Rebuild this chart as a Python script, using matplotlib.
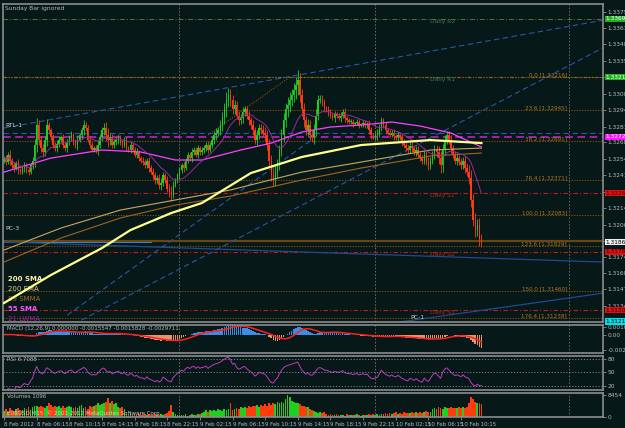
import matplotlib
matplotlib.use('Agg')
import matplotlib.pyplot as plt
import matplotlib.transforms as mtransforms
import numpy as np
import pandas as pd

plt.rcParams['font.family'] = ['DejaVu Sans']

# EURUSD M15, 8 Feb 2012 02:15 -> 10 Feb, closes in pips above 1.3000
close_pips = [255, 252, 258, 253, 249, 247, 251, 245, 244, 247, 249, 245, 244, 249, 253,
              266, 282, 270,
              263, 260, 270, 282,
              278, 272, 266, 263, 267,
              270, 272, 266, 263, 268,
              272, 274, 268, 266, 270, 274,
              278, 282, 280, 270, 266, 262,
              263, 262, 266, 272, 278, 280,
              274, 270, 272, 266, 268, 270,
              272, 268, 266, 270, 263, 262,
              266, 262, 258, 260, 255, 253,
              252, 249, 253, 247, 244, 241,
              237, 239, 233, 235, 241, 237,
              230, 227, 225, 233, 237, 241,
              245, 249, 247, 253, 258, 255,
              260, 262, 258, 263, 260, 262,
              263, 266, 262, 266, 270, 274,
              276, 278, 282, 288, 295, 303,
              307, 303, 295, 299, 290, 286,
              288, 293, 295, 290, 286, 282,
              278, 270, 274, 280, 278, 276,
              274, 266, 253, 241, 237, 244,
              249, 262, 274, 286, 295, 299,
              303, 307, 311, 315, 319, 307,
              295, 286, 278, 282, 274, 272,
              278, 290, 303, 304, 301, 296,
              295, 293, 290, 288, 291, 290,
              288, 290, 293, 288, 286, 285,
              285, 283, 284, 285, 282, 283,
              284, 282, 283, 278, 274, 273,
              274, 275, 280, 286, 282, 278,
              276, 274, 276, 273, 272, 274,
              272, 268, 266, 263, 262, 265,
              263, 260, 262, 258, 255, 253,
              258, 252, 249, 253, 258, 262,
              260, 255, 249, 262, 270, 274,
              270, 263, 258, 253, 255, 252,
              249, 253, 247, 244, 239,
              221, 204, 196, 200, 189, 186]
first_open_pips = 253

wick_pips = [2, 3, 2, 4, 2, 3, 2, 3, 2, 2, 3, 2, 3, 2, 3, 5, 6, 4, 3, 4,
             3, 5, 3, 2, 3, 2, 3, 3, 2, 3, 2, 3, 2, 3, 2, 3, 4, 2, 3, 4,
             3, 2, 3, 2, 2, 3, 4, 3, 3, 4, 5, 6, 4, 3, 3, 2, 3, 2, 3, 2,
             2, 2, 3, 2, 2, 3, 2, 2, 3, 2, 2, 3, 2, 3, 3, 2, 3, 4, 3, 2,
             3, 4, 5, 3, 2, 2, 3, 2, 3, 2, 2, 2, 3, 2, 2, 3, 2, 2, 3, 2,
             3, 2, 3, 3, 4, 3, 4, 5, 5, 6, 6, 5, 4, 4, 3, 4, 3, 4, 3, 3,
             4, 3, 4, 3, 4, 3, 3, 4, 5, 4, 5, 5, 6, 5, 5, 4, 5, 6, 5, 6,
             6, 5, 6, 7, 8, 6, 5, 5, 4, 5, 4, 4, 5, 5, 4, 3, 3, 3, 2, 3,
             2, 2, 3, 2, 2, 3, 2, 3, 2, 2, 2, 2, 1, 2, 2, 1, 2, 2, 2, 3,
             3, 2, 3, 4, 3, 3, 2, 3, 2, 2, 2, 3, 2, 3, 2, 3, 3, 2, 3, 3,
             3, 2, 3, 3, 2, 3, 3, 3, 4, 3, 3, 4, 4, 5, 6, 5, 4, 3, 3, 4,
             3, 3, 4, 3, 3, 3, 4, 4, 5, 6, 5, 6, 5, 6, 4]

volumes = ([2300, 3000, 2100, 3400, 2700, 2200, 3100, 3600, 2800, 2500, 3300, 3000, 3800, 2600, 3900]
           + [4100, 4400, 3700, 4200, 3900, 3500]
           + [4300, 5400, 4700, 4000, 4400]
           + [3800, 4200, 3600, 4100, 3400, 3900, 4300, 3700, 3500, 4000]
           + [3300, 4100, 4500, 3600, 4000, 3200, 4400, 3800, 4100]
           + [4800, 5300, 4600, 5100, 5500]
           + [5700, 7300, 5400, 6000, 4900, 5200]
           + [3700, 3400, 3900, 3100]
           + [1200, 900, 1400, 800, 1100, 700, 1300, 900, 600, 1000, 800, 1200, 700, 900, 1100, 600, 800, 1000, 700]
           + [1000, 1500, 2300, 4600, 1800, 1200]
           + [800, 600, 900, 700, 1000, 500, 800, 1100, 700, 900, 1200, 1000, 1400]
           + [2000, 2500, 1800, 2800, 2300, 2700, 2200, 3000, 2600, 2400, 2900, 2700, 3200]
           + [5400]
           + [2600, 3000, 3400, 2900, 3700, 3300, 4000, 3600, 4200, 3800, 4100]
           + [4300, 4600, 4000, 4500, 4200]
           + [5000, 4400, 5300, 4800, 5500, 5100, 5800, 5200, 5700, 5400]
           + [7000, 8454, 7500, 6300]
           + [5900, 5300, 5500, 4900, 4400]
           + [4400, 3700, 4000, 3100, 2800]
           + [2400, 2100, 1700, 2000, 1500, 1800]
           + [1100, 800, 1200, 900, 700, 1000, 600, 900, 800, 500, 1100, 700, 900, 600,
              800, 1000, 700, 500, 900, 600, 800, 1100, 700, 1000, 900, 1200, 800, 1000]
           + [1200, 1500, 1000, 1700, 1300, 1400, 1800, 1100, 1600, 1300, 1900, 1500,
              1700, 1400, 2000, 1600, 1800, 1500, 2100, 1700, 1900, 2200, 1800, 2000]
           + [2900, 3500, 3200, 3800, 3400, 3100, 3900, 3600, 3300, 3700, 3500]
           + [3600, 3400, 3800, 3300, 3700, 3500, 3900]
           + [5200, 7800, 6800]
           + [5600, 5300, 5500, 5000])

# moving averages (bar index, price)
sma200_bars = [0, 23, 48, 62, 82, 97, 121, 146, 175, 209, 234]
sma200 = [1.31361, 1.31591, 1.31812, 1.31960, 1.32100, 1.32182, 1.32428, 1.32560, 1.32658, 1.32699, 1.32674]
ema200_bars = [0, 28, 57, 84, 111, 146, 175, 209, 234]
ema200 = [1.31796, 1.31977, 1.32124, 1.32207, 1.32289, 1.32436, 1.32518, 1.32617, 1.32633]
smma89 = [1.31697, 1.31895, 1.32059, 1.32165, 1.32239, 1.32371, 1.32469, 1.32568, 1.32592]
sma55_bars = [0, 23, 48, 67, 84, 97, 116, 131, 146, 160, 175, 190, 204, 219, 234]
sma55 = [1.32436, 1.32551, 1.32617, 1.32601, 1.32535, 1.32535, 1.32617, 1.32674, 1.32765,
         1.32806, 1.32822, 1.32847, 1.32814, 1.32757, 1.32642]

price_ticks = [1.33750, 1.33615, 1.33485, 1.33350, 1.33215, 1.33080, 1.32945, 1.32810, 1.32680,
               1.32545, 1.32410, 1.32275, 1.32140, 1.32005, 1.31870, 1.31740, 1.31605, 1.31475, 1.31340]
time_tick_bars = [0, 16, 32, 48, 64, 80, 96, 112, 128, 144, 160, 176, 192, 208, 224]
time_labels = ['8 Feb 2012', '8 Feb 06:15', '8 Feb 10:15', '8 Feb 14:15', '8 Feb 18:15', '8 Feb 22:15',
               '9 Feb 02:15', '9 Feb 06:15', '9 Feb 10:15', '9 Feb 14:15', '9 Feb 18:15', '9 Feb 22:15',
               '10 Feb 02:15', '10 Feb 06:15', '10 Feb 10:15']
day_sep_bars = [86, 182, 277]

# pivots and fibo levels
pivot_names = ['Daily R2', 'Daily R1', 'Daily S1', 'Daily S2', 'Daily S3']
pivot_prices = [1.33693, 1.33216, 1.32264, 1.31780, 1.31303]
fib_ratios = ['0.0', '23.6', '38.2', '76.4', '100.0', '123.6', '150.0', '176.4']
fib_prices = [1.33216, 1.32945, 1.32691, 1.32371, 1.32083, 1.31829, 1.31460, 1.31238]

BG = '#071818'
GRAY = '#b8b8b8'
W, H = 625, 428

n = len(close_pips)
closes = 1.3 + np.array(close_pips) / 10000
opens = np.r_[1.3 + first_open_pips / 10000, closes[:-1]]
wick = np.array(wick_pips[:n]) / 10000
vol = np.array(volumes[:n])
x = np.arange(n)
up = closes >= opens
bar_col = np.where(up, '#20d020', '#ff3c10')

fig = plt.figure(figsize=(W / 100, H / 100), dpi=100, facecolor=BG)


def box(l, t, r, b):
    return [l / W, 1 - b / H, (r - l) / W, (b - t) / H]


ax = fig.add_axes(box(3, 4, 603, 322))
ax_macd = fig.add_axes(box(3, 325, 603, 353), sharex=ax)
ax_rsi = fig.add_axes(box(3, 356, 603, 390), sharex=ax)
ax_vol = fig.add_axes(box(3, 393, 603, 417), sharex=ax)

for a in (ax, ax_macd, ax_rsi, ax_vol):
    a.set_facecolor(BG)
    for s in a.spines.values():
        s.set_color('#8c8c8c')
        s.set_linewidth(1.2)
    a.yaxis.tick_right()
    a.tick_params(axis='y', colors='#8c8c8c', labelcolor=GRAY, labelsize=4.2, length=2, pad=1.5, width=0.6)
    a.tick_params(axis='x', length=0, labelbottom=False)
    for b in day_sep_bars:
        a.axvline(b, color='#807060', lw=0.6, ls=(0, (2, 2)), zorder=1)

ax.set_xlim(-0.5, 293.6)

# ---- main price panel ----
ax.set_ylim(1.31205, 1.33816)
ax.set_yticks(price_ticks)
ax.set_yticklabels(['%.5f' % p for p in price_ticks])

# horizontal levels
ax.axhline(pivot_prices[0], color='#4e7a30', lw=0.7, ls=(0, (5, 2, 1, 2)))
ax.axhline(pivot_prices[1], color='#8a8a20', lw=0.8, ls=(0, (3, 1.5, 1, 1.5, 1, 1.5)))
for p in pivot_prices[2:]:
    ax.axhline(p, color='#c81818', lw=0.8, ls=(0, (4, 2, 1, 2)))
for p in fib_prices:
    ax.axhline(p, color='#7a4a12', lw=0.8, ls=(0, (1.2, 1.2)))
ax.axhline(1.32757, color='#2a55a8', lw=0.8, ls=(0, (5, 3)))
ax.axhline(1.32724, color='#d020d0', lw=1.1, ls=(0, (5, 3)))
ax.axhline(1.31870, color='#6a4510', lw=1.6)
ax.plot([0, 72], [1.31858, 1.31858], color='#3a8ad0', lw=0.7)

# trend / channel lines
ax.plot([0, 294], [1.32798, 1.33684], color='#2a55a8', lw=0.8, ls=(0, (5, 3)))
ax.plot([38, 294], [1.31220, 1.33460], color='#2a55a8', lw=0.8, ls=(0, (5, 3)))
ax.plot([31, 150], [1.31262, 1.32691], color='#2a55a8', lw=0.8, ls=(0, (5, 3)))
ax.plot([100, 140], [1.32740, 1.33216], color='#7a4a12', lw=0.8, ls=(0, (1.2, 1.2)))
ax.plot([0, 294], [1.31862, 1.31697], color='#1e4a90', lw=0.9)
ax.plot([194, 294], [1.31205, 1.31443], color='#1e4a90', lw=0.9)

# candles
lo = np.minimum(opens, closes)
hi = np.maximum(opens, closes)
ax.vlines(x, lo - wick, hi + wick, colors=bar_col, lw=0.6, zorder=3)
ax.bar(x, np.maximum(hi - lo, 0.00004), bottom=lo, width=0.75, color=bar_col, lw=0, zorder=3)

# moving averages
ax.plot(ema200_bars, smma89, color='#a06420', lw=0.8, zorder=4)
ax.plot(ema200_bars, ema200, color='#c8a860', lw=0.8, zorder=4)
ax.plot(sma55_bars, sma55, color='#ff40ff', lw=0.9, zorder=4)
lwma = pd.Series(closes).rolling(21, min_periods=1).apply(
    lambda w: np.average(w, weights=np.arange(1, len(w) + 1)), raw=True)
ax.plot(x, lwma, color='#9a2a9a', lw=0.7, zorder=4)
ax.plot(sma200_bars, sma200, color='#ffff90', lw=1.6, zorder=5)

# level labels
for name, p in zip(pivot_names, pivot_prices):
    c = '#3a7a62' if 'R' in name else '#b02a20'
    ax.text(209, p, name, color=c, fontsize=4.3, va='top', ha='left')
for r, p in zip(fib_ratios, fib_prices):
    ax.text(276, p, '%s [%.5f]' % (r, p), color='#b07820', fontsize=4.1, va='bottom', ha='right')

ax.text(0.5, 1.33760, 'Sunday Bar ignored', color=GRAY, fontsize=4.3, va='bottom')
ax.text(0.5, 1.32800, 'RTL-1', color='#d0d0d0', fontsize=4.5, va='bottom')
ax.text(0.5, 1.31950, 'PC-3', color='#d0d0d0', fontsize=4.5, va='bottom')
ax.text(199, 1.31225, 'PC-1', color='#d0d0d0', fontsize=4.5, va='bottom')

legend = [('200 SMA', '#f8f4b0', 'bold'), ('200 EMA', '#d8c890', 'normal'),
          ('89 SMMA', '#a06a20', 'normal'), ('55 SMA', '#ff50ff', 'bold'), ('21 LWMA', '#a020a0', 'normal')]
for k, (t, c, w) in enumerate(legend):
    ax.text(2, 1.31555 - k * 0.00082, t, color=c, fontsize=5, fontweight=w, va='center')

# coloured price boxes on the axis
tr = mtransforms.blended_transform_factory(ax.transAxes, ax.transData)
boxes = [(1.33693, '#20b020', 'white'), (1.33216, '#20b020', 'white'), (1.32724, '#ff10ff', 'white'),
         (1.32264, '#e01010', '#300000'), (1.31861, '#f0f0f0', 'black'), (1.31780, '#e01010', '#300000'),
         (1.31303, '#e01010', '#300000'), (1.31210, '#00e0e8', 'black')]
for p, bg, fg in boxes:
    ax.text(1.004, p, '%.5f' % p, transform=tr, fontsize=4.2, color=fg, va='center', ha='left',
            bbox=dict(fc=bg, ec='none', pad=0.6), clip_on=False, zorder=10)

# ---- MACD ----
s = pd.Series(closes)
macd = s.ewm(span=12, adjust=False).mean() - s.ewm(span=26, adjust=False).mean()
signal = macd.rolling(9, min_periods=1).mean()
macd_col = np.where(macd >= 0, '#3a8ee8', '#e8946a')
ax_macd.bar(x, macd, width=0.8, color=macd_col, lw=0)
ax_macd.plot(x, signal, color='#ff2020', lw=1.1)
ax_macd.set_ylim(-0.002525, 0.001297)
ax_macd.set_yticks([0.001024, 0.0, -0.002115])
ax_macd.set_yticklabels(['0.001024', '0.00', '-0.002115'])
ax_macd.text(1.5, 0.00118, 'MACD (12,26,9) 0.000000 -0.0015547 -0.0015828 -0.0029711',
             color=GRAY, fontsize=4, va='top')

# ---- RSI ----
delta = s.diff()
gain = delta.clip(lower=0).ewm(alpha=1 / 14, adjust=False).mean()
loss = (-delta.clip(upper=0)).ewm(alpha=1 / 14, adjust=False).mean()
rsi = 100 - 100 / (1 + gain / loss.replace(0, np.nan))
ax_rsi.plot(x, rsi, color='#c03ac0', lw=0.7)
for lv in (80, 50, 20):
    ax_rsi.axhline(lv, color='#8c8c8c', lw=0.6, ls=(0, (1.5, 2)))
ax_rsi.set_ylim(10, 85.6)
ax_rsi.set_yticks([80, 50, 20])
ax_rsi.text(1.5, 84, 'RSI 6.7088', color=GRAY, fontsize=4, va='top')

# ---- Volumes ----
ax_vol.bar(x, vol, width=0.85, color=bar_col, lw=0)
ax_vol.set_ylim(0, 9222)
ax_vol.set_yticks([8454, 0])
ax_vol.text(1.5, 9000, 'Volumes 1096', color=GRAY, fontsize=4, va='top')
ax_vol.text(1.5, 300, 'EURUSD,M15  \u00a9 2001-2012 MetaQuotes Software Corp.', color='#d0d0d0',
            fontsize=4, va='bottom')
ax_vol.set_xticks(time_tick_bars)
ax_vol.set_xticklabels(time_labels, ha='left')
ax_vol.tick_params(axis='x', labelbottom=True, length=2, colors='#8c8c8c', labelcolor=GRAY,
                   labelsize=3.9, pad=1.5, width=0.6)

fig.savefig('out.png', dpi=100, facecolor=BG)
